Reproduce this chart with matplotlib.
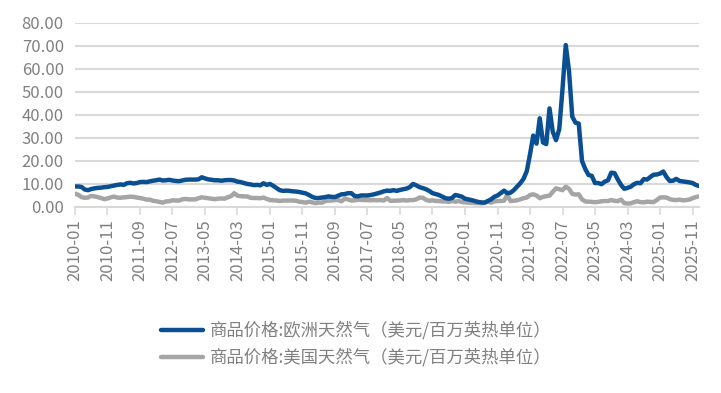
import numpy as np
import pandas as pd
import matplotlib
matplotlib.use("Agg")
import matplotlib.pyplot as plt

plt.rcParams['font.family'] = ['Noto Sans CJK SC', 'DejaVu Sans']

# Monthly data, 2010-01 .. 2026-01 (USD / MMBtu)
months = pd.date_range("2010-01-01", "2026-01-01", freq="MS").strftime("%Y-%m").tolist()

europe_gas = [
    8.9, 8.9, 8.7, 7.6, 7.3, 7.8, 8.1, 8.3, 8.4, 8.6, 8.7, 9.0,          # 2010
    9.3, 9.6, 9.8, 9.6, 10.3, 10.5, 10.2, 10.4, 10.8, 10.9, 10.8, 11.1,  # 2011
    11.4, 11.6, 11.9, 11.5, 11.6, 11.8, 11.5, 11.3, 11.2, 11.5, 11.8, 11.9,  # 2012
    11.9, 11.9, 12.0, 12.9, 12.4, 12.0, 11.8, 11.6, 11.6, 11.4, 11.6, 11.7,  # 2013
    11.7, 11.5, 11.0, 10.8, 10.4, 10.0, 9.8, 9.5, 9.6, 9.4, 10.3, 9.6,   # 2014
    10.0, 9.2, 8.2, 7.3, 7.0, 7.1, 7.0, 6.8, 6.7, 6.5, 6.2, 5.9,         # 2015
    5.2, 4.4, 3.9, 3.9, 4.1, 4.3, 4.6, 4.4, 4.3, 4.9, 5.5, 5.6,          # 2016
    6.0, 6.0, 4.8, 4.6, 5.0, 5.0, 5.0, 5.2, 5.5, 5.9, 6.3, 6.8,          # 2017
    7.1, 7.0, 7.3, 7.0, 7.4, 7.7, 8.0, 8.6, 10.0, 9.4, 8.6, 8.2,         # 2018
    7.7, 7.0, 6.0, 5.6, 5.2, 4.5, 3.8, 3.6, 3.9, 5.2, 4.9, 4.5,          # 2019
    3.6, 3.3, 3.0, 2.6, 2.2, 2.0, 1.9, 2.6, 3.3, 4.4, 5.0, 6.0,          # 2020
    7.1, 6.0, 6.2, 7.3, 8.8, 10.3, 12.2, 15.5, 22.8, 31.0, 27.5, 38.5,   # 2021
    28.0, 27.3, 42.8, 32.7, 29.0, 33.8, 51.2, 70.3, 59.1, 39.2, 36.6, 36.2,  # 2022
    20.0, 16.5, 13.9, 13.5, 10.4, 10.4, 9.9, 11.0, 11.6, 14.9, 14.7, 12.0,   # 2023
    9.6, 7.9, 8.3, 8.8, 9.9, 10.5, 10.3, 12.1, 11.9, 13.0, 14.0, 14.1,   # 2024
    14.5, 15.4, 13.0, 11.3, 11.4, 12.2, 11.3, 11.1, 10.9, 10.7, 10.4, 9.6,   # 2025
    9.1,                                                                 # 2026
]

us_gas = [
    5.8, 5.3, 4.3, 4.0, 4.1, 4.8, 4.6, 4.3, 3.9, 3.4, 3.7, 4.2,
    4.5, 4.1, 4.0, 4.2, 4.3, 4.5, 4.4, 4.1, 3.9, 3.6, 3.2, 3.2,
    2.7, 2.5, 2.2, 1.9, 2.4, 2.5, 2.9, 2.8, 2.8, 3.3, 3.5, 3.3,
    3.3, 3.3, 3.8, 4.2, 4.0, 3.8, 3.6, 3.4, 3.6, 3.7, 3.6, 4.2,
    4.7, 6.0, 4.9, 4.7, 4.6, 4.6, 4.0, 3.9, 3.9, 3.8, 4.1, 3.5,
    3.0, 2.9, 2.8, 2.6, 2.8, 2.8, 2.8, 2.8, 2.7, 2.3, 2.1, 1.9,
    2.3, 2.0, 1.7, 1.9, 1.9, 2.6, 2.8, 2.8, 3.0, 3.0, 2.5, 3.6,
    3.3, 2.8, 2.9, 3.1, 3.1, 3.0, 3.0, 2.9, 3.0, 2.9, 3.0, 2.8,
    3.9, 2.7, 2.7, 2.8, 2.8, 3.0, 2.8, 3.0, 3.0, 3.3, 4.1, 4.0,
    3.1, 2.7, 2.9, 2.6, 2.6, 2.4, 2.4, 2.2, 2.6, 2.3, 2.6, 2.2,
    2.0, 1.9, 1.8, 1.7, 1.7, 1.6, 1.8, 2.3, 1.9, 2.4, 2.6, 2.6,
    2.7, 5.3, 2.6, 2.7, 2.9, 3.3, 3.8, 4.1, 5.2, 5.5, 5.0, 3.8,
    4.4, 4.7, 4.9, 6.6, 8.1, 7.7, 7.3, 8.8, 7.9, 5.7, 5.4, 5.5,
    3.3, 2.4, 2.3, 2.2, 2.1, 2.2, 2.5, 2.6, 2.6, 3.0, 2.7, 2.5,
    3.2, 1.7, 1.5, 1.6, 2.1, 2.5, 2.1, 2.0, 2.3, 2.2, 2.1, 3.0,
    4.1, 4.2, 4.1, 3.4, 3.1, 3.0, 3.2, 2.9, 3.0, 3.2, 3.8, 4.3,
    4.6,
]

label_europe = "商品价格:欧洲天然气（美元/百万英热单位）"
label_us = "商品价格:美国天然气（美元/百万英热单位）"

x = np.arange(len(months))
grid_c = "#d9d9d9"
text_c = "#808080"

fig = plt.figure(figsize=(7.21, 3.93), dpi=100)
ax = fig.add_axes([0.104, 0.4733, 0.8655, 0.469])

ax.plot(x, europe_gas, color="#0a4f92", lw=3.2, label=label_europe, zorder=3,
        solid_joinstyle="round", solid_capstyle="round")
ax.plot(x, us_gas, color="#a5a5a5", lw=3.2, label=label_us, zorder=2,
        solid_joinstyle="round", solid_capstyle="round")

ax.set_xlim(0, len(months) - 1)
ax.set_ylim(0, 80)
ax.set_yticks(np.arange(0, 81, 10))
ax.set_yticklabels([f"{v:.2f}" for v in range(0, 81, 10)])
ax.set_xticks(x[::10])
ax.set_xticklabels(months[::10], rotation=90)

ax.grid(axis="y", color=grid_c, lw=1.5)
ax.set_axisbelow(True)
for side in ["top", "right", "left"]:
    ax.spines[side].set_visible(False)
ax.spines["bottom"].set_color(grid_c)
ax.spines["bottom"].set_linewidth(1.5)
ax.tick_params(axis="y", length=0, pad=8, labelsize=12, labelcolor=text_c)
ax.tick_params(axis="x", length=6, width=1.2, color=grid_c, pad=3,
               labelsize=12, labelcolor=text_c)

fig.legend(loc="center", bbox_to_anchor=(0.494, 0.125), frameon=False,
           fontsize=12.5, labelcolor=text_c, handlelength=2.4,
           handletextpad=0.4, labelspacing=0.45)

fig.savefig("out.png", dpi=100)
